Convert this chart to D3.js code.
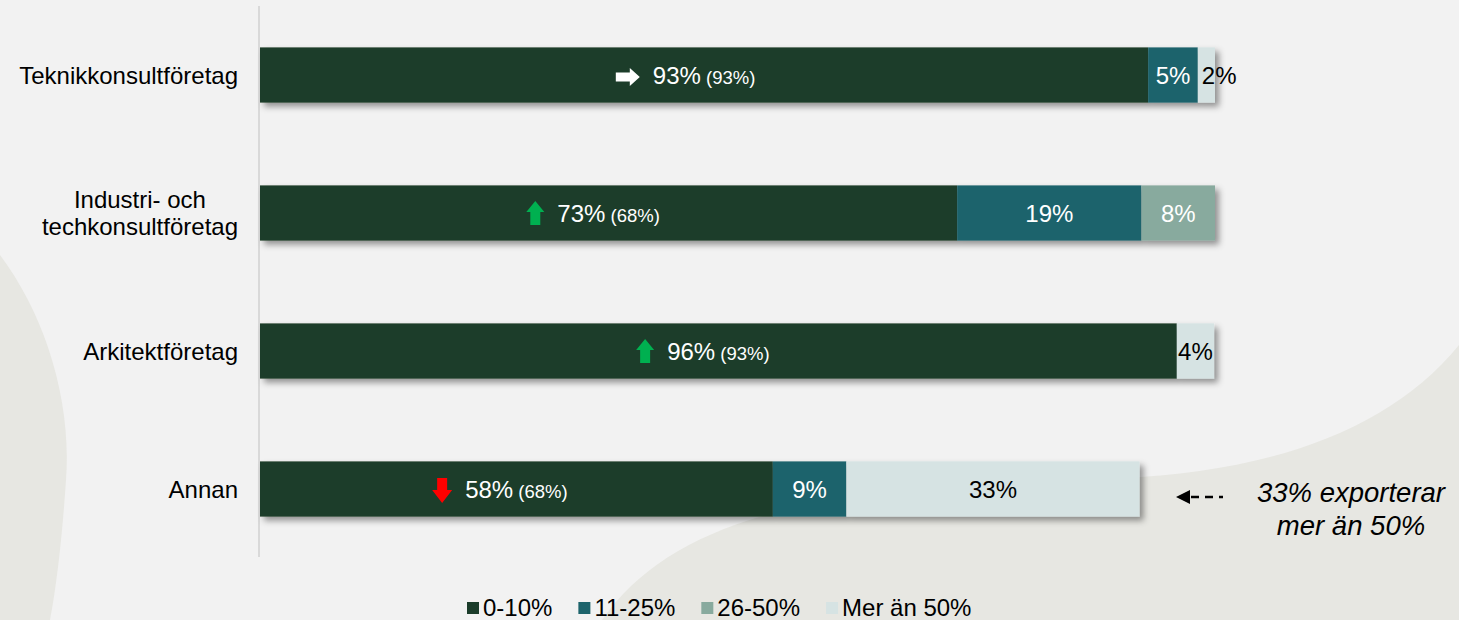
<!DOCTYPE html>
<html>
<head>
<meta charset="utf-8">
<script src="https://cdn.jsdelivr.net/npm/d3@7"></script>
<style>
  html, body { margin: 0; padding: 0; background: #f2f2f2; }
  #chart svg { display: block; font-family: Arial, "Liberation Sans", sans-serif; }
</style>
</head>
<body>
<div id="chart"></div>
<script>
// Data
const categories = ["Teknikkonsultföretag", "Industri- och\ntechkonsultföretag", "Arkitektföretag", "Annan"];
const seriesNames = ["0-10%", "11-25%", "26-50%", "Mer än 50%"];
const seriesColors = ["#1b3c2a", "#1d646c", "#88aa9e", "#d6e3e3"];
const seriesTextColors = ["#ffffff", "#ffffff", "#ffffff", "#000000"];

// plotted bar lengths (%)
const share0to10 = [93, 73, 96, 53.7];
const share11to25 = [5.2, 19.3, 0, 7.7];
const share26to50 = [0, 7.7, 0, 0];
const shareOver50 = [1.8, 0, 3.9, 30.7];

// printed labels
const label0to10 = ["93%", "73%", "96%", "58%"];
const label11to25 = ["5%", "19%", "", "9%"];
const label26to50 = ["", "8%", "", ""];
const labelOver50 = ["2%", "", "4%", "33%"];

// previous year value and trend arrow for the first segment
const previousYear = ["(93%)", "(68%)", "(93%)", "(68%)"];
const trend = ["flat", "up", "up", "down"];

const annotationLines = ["33% exporterar", "mer än 50%"];

function drawChart() {
    const width = 1459, height = 620;
    const container = d3.select("#chart");
    container.html("");

    const svg = container.append("svg")
        .attr("width", width).attr("height", height);

    // 1. Background + decorative curved shapes
    svg.append("rect").attr("width", width).attr("height", height).attr("fill", "#f2f2f2");
    svg.append("path")
        .attr("d", "M0,255 C45,315 72,400 66,480 C62,540 56,590 50,620 L0,620 Z")
        .attr("fill", "#e7e7e2");
    svg.append("path")
        .attr("d", "M602,620 C675,515 830,482 1120,478 C1270,472 1390,430 1459,345 L1459,620 Z")
        .attr("fill", "#e7e7e2");

    const defs = svg.append("defs");
    defs.append("filter").attr("id", "barShadow")
        .attr("x", "-5%").attr("y", "-30%").attr("width", "115%").attr("height", "170%")
        .append("feDropShadow")
        .attr("dx", 4).attr("dy", 4).attr("stdDeviation", 3)
        .attr("flood-color", "#000").attr("flood-opacity", 0.4);

    // 2. Scales
    const x = d3.scaleLinear().domain([0, 100]).range([260, 1215]);
    const y = d3.scaleBand().domain(d3.range(categories.length)).range([6, 558])
        .paddingInner(0.6).paddingOuter(0.3);

    const rows = categories.map((c, i) => {
        const vals = [share0to10[i], share11to25[i], share26to50[i], shareOver50[i]];
        const labs = [label0to10[i], label11to25[i], label26to50[i], labelOver50[i]];
        let acc = 0;
        const segs = vals.map((v, k) => {
            const s = { key: k, x0: acc, x1: acc + v, label: labs[k] };
            acc += v;
            return s;
        }).filter(s => s.x1 > s.x0);
        return { index: i, category: c, segs };
    });

    // 3. Axis line
    svg.append("line")
        .attr("x1", 259).attr("x2", 259)
        .attr("y1", y.range()[0]).attr("y2", y.range()[1] - 1)
        .attr("stroke", "#d9d9d9").attr("stroke-width", 2);

    // 4. Bars (shadow per row so segments do not shade each other)
    const rowG = svg.append("g").selectAll("g")
        .data(rows)
        .join("g")
        .attr("filter", "url(#barShadow)");

    rowG.selectAll("rect")
        .data(d => d.segs.map(s => ({ ...s, row: d.index })))
        .join("rect")
        .attr("x", d => x(d.x0))
        .attr("width", d => x(d.x1) - x(d.x0))
        .attr("y", d => y(d.row))
        .attr("height", y.bandwidth())
        .attr("fill", d => seriesColors[d.key]);

    // 5. Labels in the segments
    const labelG = svg.append("g");
    rows.forEach(r => {
        const cy = y(r.index) + y.bandwidth() / 2;
        r.segs.forEach(s => {
            if (!s.label) return;
            const sx0 = x(s.x0), sx1 = x(s.x1);
            if (s.key === 0) {
                const t = labelG.append("text")
                    .attr("x", (sx0 + sx1) / 2).attr("y", cy + 9)
                    .attr("text-anchor", "middle")
                    .attr("fill", "#fff")
                    .attr("font-size", "24px");
                t.append("tspan").text(s.label);
                t.append("tspan").attr("font-size", "18.5px").text(" " + previousYear[r.index]);
                const tw = t.node().getComputedTextLength();
                const textStart = (sx0 + sx1) / 2 - tw / 2;
                drawTrendArrow(labelG, trend[r.index], textStart - 13, cy);
            } else {
                const narrow = (sx1 - sx0) < 26;
                labelG.append("text")
                    .attr("x", narrow ? sx0 + 4 : (sx0 + sx1) / 2)
                    .attr("y", cy + 9)
                    .attr("text-anchor", narrow ? "start" : "middle")
                    .attr("fill", seriesTextColors[s.key])
                    .attr("font-size", "24px")
                    .text(s.label);
            }
        });
    });

    // 6. Category labels (multi-line ones are centred on each other)
    rows.forEach(r => {
        const lines = r.category.split("\n");
        const cy = y(r.index) + y.bandwidth() / 2;
        const lh = 27;
        const t = svg.append("text")
            .attr("font-size", "24px")
            .attr("fill", "#000");
        lines.forEach((ln, k) => {
            t.append("tspan").attr("x", 0)
                .attr("y", cy + 8.5 + (k - (lines.length - 1) / 2) * lh)
                .text(ln);
        });
        const widths = t.selectAll("tspan").nodes().map(n => n.getComputedTextLength());
        const maxW = d3.max(widths);
        t.attr("text-anchor", "middle");
        t.selectAll("tspan").attr("x", 238 - maxW / 2);
    });

    // 7. Annotation for "Annan"
    const ay = y(3) + y.bandwidth() / 2 + 8;
    svg.append("path")
        .attr("d", `M1176,${ay} L1190,${ay - 7} L1190,${ay + 7} Z`)
        .attr("fill", "#000");
    svg.append("line")
        .attr("x1", 1191).attr("x2", 1223).attr("y1", ay).attr("y2", ay)
        .attr("stroke", "#000").attr("stroke-width", 2.5)
        .attr("stroke-dasharray", "8,6");
    const ann = svg.append("text")
        .attr("font-size", "27.5px").attr("font-style", "italic")
        .attr("text-anchor", "middle").attr("fill", "#000");
    annotationLines.forEach((ln, k) => {
        ann.append("tspan").attr("x", 1351).attr("y", 502 + k * 33).text(ln);
    });

    // 8. Legend
    const legend = svg.append("g");
    let lx = 467;
    seriesNames.forEach((name, k) => {
        legend.append("rect")
            .attr("x", lx).attr("y", 602).attr("width", 12).attr("height", 12)
            .attr("fill", seriesColors[k]);
        const t = legend.append("text")
            .attr("x", lx + 16).attr("y", 616)
            .attr("font-size", "24px").attr("fill", "#000")
            .text(name);
        lx += 16 + t.node().getComputedTextLength() + 26;
    });
}

function drawTrendArrow(g, kind, rightEdge, cy) {
    if (kind === "flat") {
        const x0 = rightEdge - 24;
        g.append("path")
            .attr("transform", `translate(${x0},${cy + 2})`)
            .attr("d", "M0,-4.5 L14,-4.5 L14,-9 L24,0 L14,9 L14,4.5 L0,4.5 Z")
            .attr("fill", "#ffffff");
    } else if (kind === "up") {
        g.append("path")
            .attr("transform", `translate(${rightEdge - 9},${cy})`)
            .attr("d", "M-5,12 L-5,-1 L-9,-1 L0,-12 L9,-1 L5,-1 L5,12 Z")
            .attr("fill", "#00b050");
    } else {
        g.append("path")
            .attr("transform", `translate(${rightEdge - 10},${cy + 1})`)
            .attr("d", "M-5,-12 L-5,0 L-10,0 L0,13 L10,0 L5,0 L5,-12 Z")
            .attr("fill", "#ff0000");
    }
}

drawChart();
</script>
</body>
</html>
